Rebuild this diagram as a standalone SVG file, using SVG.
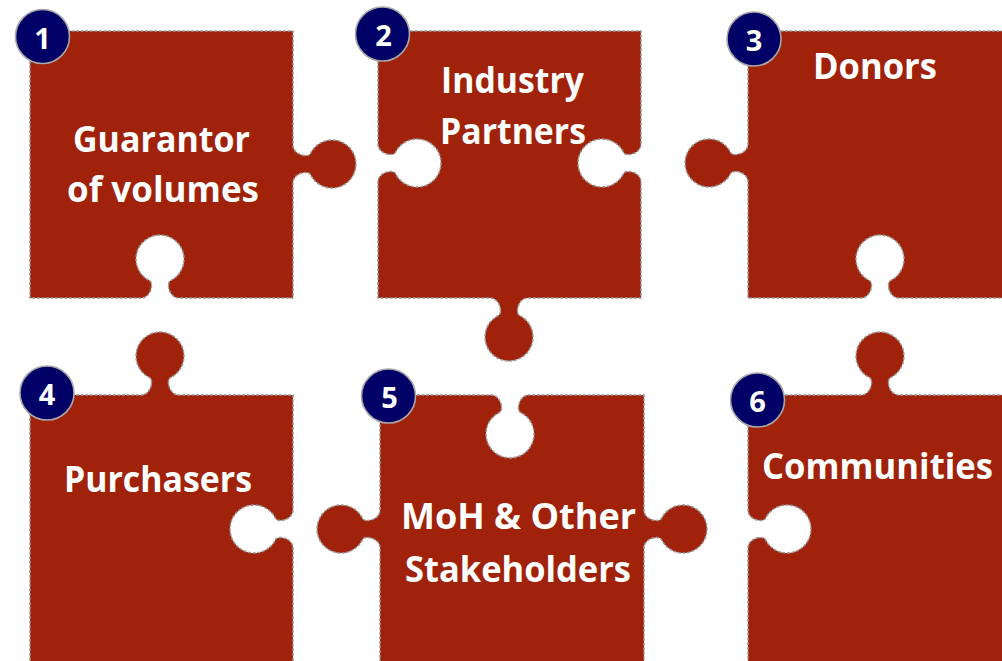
<svg xmlns="http://www.w3.org/2000/svg" width="1002" height="661" viewBox="0 0 1002 661">
  <style>
    .piece { fill: #A0220A; stroke: #999999; stroke-width: 1.5; stroke-dasharray: 3 1.6; }
    .badge { fill: #000066; stroke: #a8a8a8; stroke-width: 1.6; }
    .num { fill: #ffffff; font-family: "Open Sans", "Liberation Sans", sans-serif; font-weight: bold; font-size: 29px; text-anchor: middle; }
    .label { fill: #ffffff; font-family: "Open Sans", "Liberation Sans", sans-serif; font-weight: bold; font-size: 35px; text-anchor: middle; }
  </style>
  <rect width="1002" height="661" fill="#ffffff"/>

  <!-- 1: tab right, slot bottom -->
  <g id="piece-1">
    <path class="piece" d="M30,31 H293 V145 C293,155 308.2,158 310.4,153.5 A24,24 0 1 1 310.4,174.5 C308.2,170 293,173 293,183 V298 H179 C169,298 166,282.8 170.5,280.6 A24,24 0 1 0 149.5,280.6 C154,282.8 151,298 141,298 H30 Z"/>
    <text class="label" x="161.5" y="152" textLength="177" lengthAdjust="spacingAndGlyphs">Guarantor</text>
    <text class="label" x="163" y="202" textLength="192" lengthAdjust="spacingAndGlyphs">of volumes</text>
    <circle class="badge" cx="42.5" cy="36.5" r="27"/>
    <text class="num" x="42.5" y="48.5">1</text>
  </g>

  <!-- 2: slots left and right, tab bottom -->
  <g id="piece-2">
    <path class="piece" d="M378,31 H641 V144 C641,154 625.8,157 623.6,152.5 A24,24 0 1 0 623.6,173.5 C625.8,169 641,172 641,182 V298 H528 C518,298 515,313.2 519.5,315.4 A24,24 0 1 1 498.5,315.4 C503,313.2 500,298 490,298 H378 V182 C378,172 393.2,169 395.4,173.5 A24,24 0 1 0 395.4,152.5 C393.2,157 378,154 378,144 Z"/>
    <text class="label" x="512.5" y="93" textLength="143" lengthAdjust="spacingAndGlyphs">Industry</text>
    <text class="label" x="513" y="143.5" textLength="146" lengthAdjust="spacingAndGlyphs">Partners</text>
    <circle class="badge" cx="382.5" cy="34" r="27"/>
    <text class="num" x="383.5" y="46">2</text>
  </g>

  <!-- 3: tab left, slot bottom -->
  <g id="piece-3">
    <path class="piece" d="M748,31 H1010 V298 H899 C889,298 886,282.8 890.5,280.6 A24,24 0 1 0 869.5,280.6 C874,282.8 871,298 861,298 H748 V182 C748,172 732.8,169 730.6,173.5 A24,24 0 1 1 730.6,152.5 C732.8,157 748,154 748,144 Z"/>
    <text class="label" x="875" y="79" textLength="124" lengthAdjust="spacingAndGlyphs">Donors</text>
    <circle class="badge" cx="754" cy="39" r="27"/>
    <text class="num" x="754" y="51">3</text>
  </g>

  <!-- 4: tab top, slot right -->
  <g id="piece-4">
    <path class="piece" d="M30,395 H141 C151,395 154,379.8 149.5,377.6 A24,24 0 1 1 170.5,377.6 C166,379.8 169,395 179,395 H293 V510 C293,520 277.8,523 275.6,518.5 A24,24 0 1 0 275.6,539.5 C277.8,535 293,538 293,548 V670 H30 Z"/>
    <text class="label" x="158" y="492" textLength="188" lengthAdjust="spacingAndGlyphs">Purchasers</text>
    <circle class="badge" cx="47" cy="393" r="27"/>
    <text class="num" x="47" y="405">4</text>
  </g>

  <!-- 5: slot top, tabs left and right -->
  <g id="piece-5">
    <path class="piece" d="M380,395 H491 C501,395 504,410.2 499.5,412.4 A24,24 0 1 0 520.5,412.4 C516,410.2 519,395 529,395 H644 V510 C644,520 659.2,523 661.4,518.5 A24,24 0 1 1 661.4,539.5 C659.2,535 644,538 644,548 V670 H380 V548 C380,538 364.8,535 362.6,539.5 A24,24 0 1 1 362.6,518.5 C364.8,523 380,520 380,510 Z"/>
    <text class="label" x="518.5" y="528.5" textLength="235" lengthAdjust="spacingAndGlyphs">MoH &amp; Other</text>
    <text class="label" x="518" y="581.5" textLength="226" lengthAdjust="spacingAndGlyphs">Stakeholders</text>
    <circle class="badge" cx="388.5" cy="396" r="27"/>
    <text class="num" x="389.5" y="408">5</text>
  </g>

  <!-- 6: tab top, slot left -->
  <g id="piece-6">
    <path class="piece" d="M748,395 H861 C871,395 874,379.8 869.5,377.6 A24,24 0 1 1 890.5,377.6 C886,379.8 889,395 899,395 H1010 V670 H748 V548 C748,538 763.2,535 765.4,539.5 A24,24 0 1 0 765.4,518.5 C763.2,523 748,520 748,510 Z"/>
    <text class="label" x="877.5" y="478.5" textLength="231" lengthAdjust="spacingAndGlyphs">Communities</text>
    <circle class="badge" cx="757.5" cy="400" r="27"/>
    <text class="num" x="757.5" y="412">6</text>
  </g>
</svg>
